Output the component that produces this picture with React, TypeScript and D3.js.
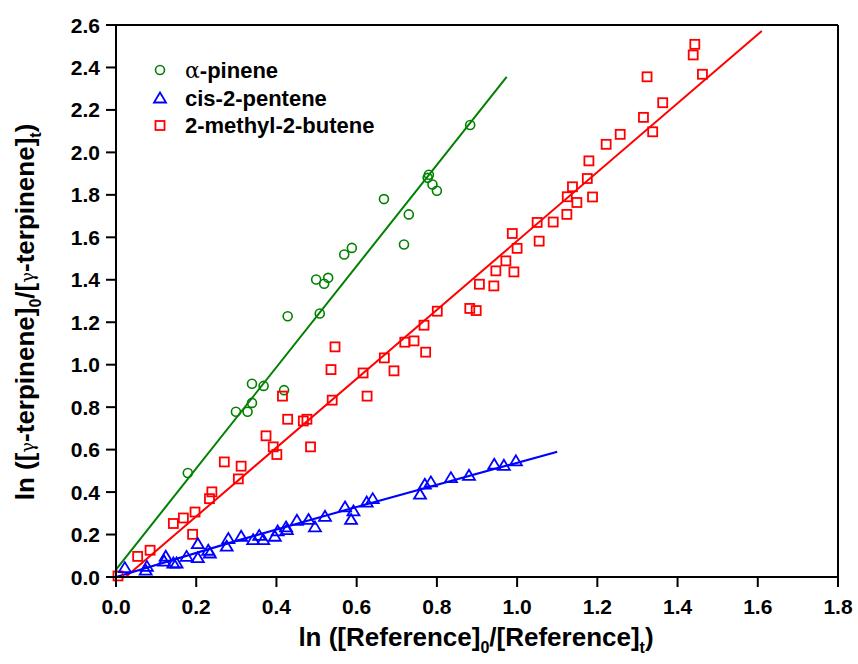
import React from "react";
import * as d3 from "d3";

const xTicks = [0, 0.2, 0.4, 0.6, 0.8, 1.0, 1.2, 1.4, 1.6, 1.8];
const yTicks = [0, 0.2, 0.4, 0.6, 0.8, 1.0, 1.2, 1.4, 1.6, 1.8, 2.0, 2.2, 2.4, 2.6];

const alphaPinene: [number, number][] = [
  [0.179, 0.49], [0.299, 0.778], [0.328, 0.778], [0.339, 0.82], [0.339, 0.91],
  [0.368, 0.9], [0.419, 0.88], [0.428, 1.228], [0.508, 1.241], [0.499, 1.401],
  [0.519, 1.381], [0.529, 1.409], [0.569, 1.519], [0.588, 1.55], [0.668, 1.78],
  [0.718, 1.566], [0.73, 1.708], [0.777, 1.88], [0.78, 1.895], [0.789, 1.849],
  [0.8, 1.819], [0.883, 2.129],
];

const cisPentene: [number, number][] = [
  [0.022, 0.044], [0.077, 0.05], [0.074, 0.032], [0.124, 0.098], [0.12, 0.075],
  [0.143, 0.066], [0.151, 0.066], [0.176, 0.097], [0.204, 0.157], [0.204, 0.091],
  [0.23, 0.126], [0.234, 0.113], [0.276, 0.145], [0.28, 0.181], [0.312, 0.192],
  [0.342, 0.176], [0.357, 0.196], [0.367, 0.176], [0.396, 0.192], [0.403, 0.217],
  [0.424, 0.236], [0.426, 0.223], [0.451, 0.267], [0.48, 0.271], [0.496, 0.236],
  [0.521, 0.286], [0.571, 0.33], [0.592, 0.311], [0.586, 0.271], [0.625, 0.353],
  [0.64, 0.369], [0.758, 0.39], [0.77, 0.437], [0.785, 0.448], [0.835, 0.468],
  [0.88, 0.479], [0.943, 0.531], [0.967, 0.526], [0.997, 0.547],
];

const methylButene: [number, number][] = [
  [0.005, 0.005], [0.054, 0.097], [0.085, 0.126], [0.143, 0.252], [0.168, 0.278],
  [0.191, 0.201], [0.197, 0.306], [0.233, 0.369], [0.239, 0.401], [0.27, 0.542],
  [0.305, 0.462], [0.312, 0.522], [0.374, 0.665], [0.392, 0.613], [0.401, 0.577],
  [0.415, 0.852], [0.428, 0.743], [0.467, 0.735], [0.476, 0.743], [0.485, 0.613],
  [0.536, 0.977], [0.539, 0.833], [0.546, 1.084], [0.616, 0.961], [0.626, 0.852],
  [0.669, 1.032], [0.693, 0.971], [0.72, 1.106], [0.743, 1.112], [0.768, 1.186],
  [0.772, 1.059], [0.801, 1.252], [0.882, 1.265], [0.898, 1.255], [0.906, 1.379],
  [0.942, 1.371], [0.947, 1.442], [0.972, 1.489], [0.988, 1.618], [0.992, 1.437],
  [1.0, 1.548], [1.05, 1.67], [1.055, 1.582], [1.09, 1.672], [1.124, 1.708],
  [1.125, 1.791], [1.138, 1.838], [1.149, 1.764], [1.175, 1.877], [1.179, 1.96],
  [1.188, 1.79], [1.222, 2.038], [1.257, 2.085], [1.315, 2.165], [1.324, 2.356],
  [1.338, 2.097], [1.363, 2.234], [1.439, 2.459], [1.443, 2.509], [1.462, 2.368],
];

const greenFit: [number, number][] = [[0, 0.035], [0.974, 2.356]];
const redFit: [number, number][] = [[0.024, 0], [1.61, 2.572]];
const blueFit: [number, number][] = [[0, 0], [0.3, 0.17], [0.6, 0.33], [1.1, 0.59]];

const GREEN = "#008000";
const BLUE = "#0000ff";
const RED = "#ff0000";
const FONT = "'Liberation Sans', Arial, sans-serif";

export default function App() {
  const W = 858, H = 664;
  const x = d3.scaleLinear().domain([0, 1.8]).range([116, 838]);
  const y = d3.scaleLinear().domain([0, 2.6]).range([577, 25]);
  const line = d3.line<[number, number]>().x((d) => x(d[0])).y((d) => y(d[1])).curve(d3.curveMonotoneX);

  const tri = (cx: number, cy: number) =>
    `M${cx},${cy - 5.5}L${cx + 6},${cy + 4.5}L${cx - 6},${cy + 4.5}Z`;

  return (
    <svg width={W} height={H} style={{ position: "absolute", left: 0, top: 0, background: "#fff" }}>
      <rect width={W} height={H} fill="#fff" />
      {/* fit lines */}
      <path d={line(greenFit) || ""} stroke={GREEN} strokeWidth={2} fill="none" />
      <path d={line(redFit) || ""} stroke={RED} strokeWidth={2} fill="none" />
      <path d={line(blueFit) || ""} stroke={BLUE} strokeWidth={2.2} fill="none" />

      {/* points */}
      {alphaPinene.map((d, i) => (
        <circle key={"g" + i} cx={x(d[0])} cy={y(d[1])} r={4.5} fill="none" stroke={GREEN} strokeWidth={1.6} />
      ))}
      {methylButene.map((d, i) => (
        <rect key={"r" + i} x={x(d[0]) - 4.5} y={y(d[1]) - 4.5} width={9} height={9} fill="none" stroke={RED} strokeWidth={1.8} />
      ))}
      {cisPentene.map((d, i) => (
        <path key={"b" + i} d={tri(x(d[0]), y(d[1]))} fill="none" stroke={BLUE} strokeWidth={1.8} />
      ))}

      {/* frame */}
      <g stroke="#000" strokeWidth={2} fill="none">
        <line x1={116} y1={25} x2={838} y2={25} />
        <line x1={838} y1={25} x2={838} y2={577} />
        <line x1={116} y1={24} x2={116} y2={578} />
        <line x1={115} y1={577} x2={839} y2={577} />
        {yTicks.map((t) => (
          <line key={"yt" + t} x1={106} x2={116} y1={y(t)} y2={y(t)} />
        ))}
        {xTicks.map((t) => (
          <line key={"xt" + t} x1={x(t)} x2={x(t)} y1={577} y2={587} />
        ))}
      </g>

      {/* tick labels */}
      <g fontFamily={FONT} fontWeight="bold" fontSize={21} fill="#000">
        {yTicks.map((t) => (
          <text key={"yl" + t} x={100} y={y(t) + 7.5} textAnchor="end">
            {t.toFixed(1)}
          </text>
        ))}
        {xTicks.map((t) => (
          <text key={"xl" + t} x={x(t)} y={614} textAnchor="middle">
            {t.toFixed(1)}
          </text>
        ))}
      </g>

      {/* x title */}
      <text x={476} y={646} textAnchor="middle" fontFamily={FONT} fontWeight="bold" fontSize={26}>
        ln ([Reference]
        <tspan fontSize={16} dy={7}>0</tspan>
        <tspan dy={-7}>/[Reference]</tspan>
        <tspan fontSize={16} dy={7}>t</tspan>
        <tspan dy={-7}>)</tspan>
      </text>

      {/* y title */}
      <text
        transform="translate(34,312) rotate(-90)"
        textAnchor="middle"
        fontFamily={FONT}
        fontWeight="bold"
        fontSize={26}
      >
        ln ([
        <tspan fontFamily="'DejaVu Serif', serif" fontWeight="normal" fontSize={18}>γ</tspan>
        <tspan>-terpinene]</tspan>
        <tspan fontSize={16} dy={7}>0</tspan>
        <tspan dy={-7}>/[</tspan>
        <tspan fontFamily="'DejaVu Serif', serif" fontWeight="normal" fontSize={18}>γ</tspan>
        <tspan>-terpinene]</tspan>
        <tspan fontSize={16} dy={7}>t</tspan>
        <tspan dy={-7}>)</tspan>
      </text>

      {/* legend */}
      <g fontFamily={FONT} fontWeight="bold" fontSize={22}>
        <circle cx={160} cy={70} r={4.5} fill="none" stroke={GREEN} strokeWidth={1.6} />
        <text x={185} y={78}>
          <tspan fontFamily="'DejaVu Serif', serif" fontWeight="normal">α</tspan>-pinene
        </text>
        <path d={tri(160, 98)} fill="none" stroke={BLUE} strokeWidth={1.8} />
        <text x={185} y={106}>cis-2-pentene</text>
        <rect x={155.5} y={121} width={9} height={9} fill="none" stroke={RED} strokeWidth={1.8} />
        <text x={185} y={133}>2-methyl-2-butene</text>
      </g>
    </svg>
  );
}
